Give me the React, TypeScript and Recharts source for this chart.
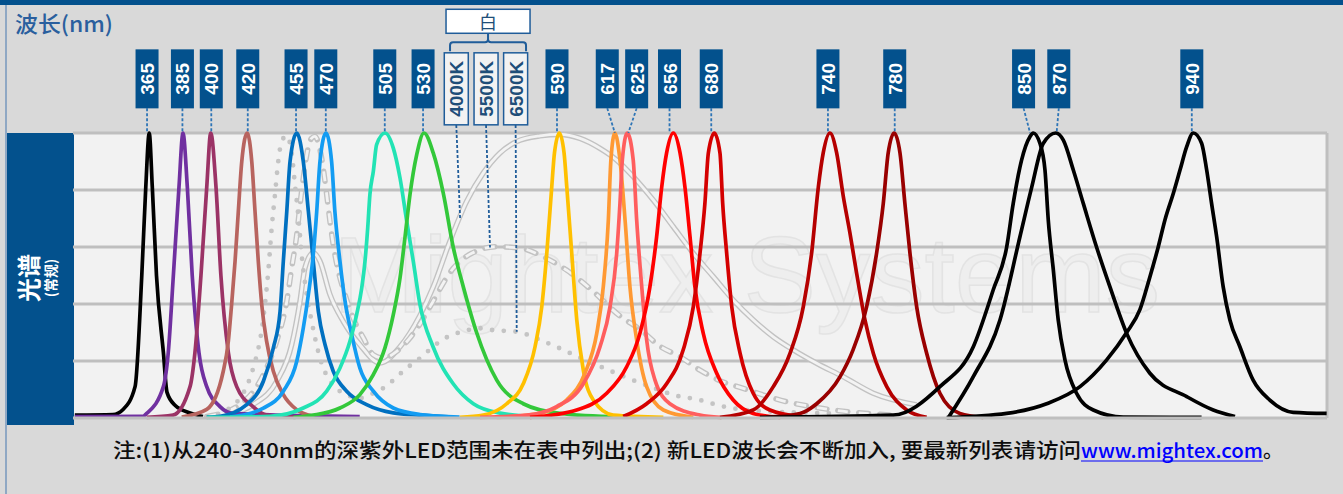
import { LineChart, Line, XAxis, YAxis, ReferenceLine, ReferenceDot } from 'recharts';

type Pt = [number, number];

// [wavelength nm, relative intensity]
const S365: Pt[] = [[324, 0.01], [345, 0.012], [350.6, 0.03], [357.2, 0.11], [360.9, 0.5], [363.1, 0.81], [365, 1], [366.7, 0.81], [369, 0.5], [372.8, 0.23], [374.8, 0.09], [379.2, 0.045], [387.5, 0.018], [394.6, 0.005]];
const S385: Pt[] = [[324, 0.005], [361.6, 0.006], [363.6, 0.016], [372.8, 0.11], [375.5, 0.23], [378.3, 0.5], [381.4, 0.81], [383.6, 1], [386, 0.81], [388.7, 0.5], [392.4, 0.23], [396.7, 0.11], [404, 0.04], [411.2, 0.016], [481, 0.005]];
const S400: Pt[] = [[363.6, 0.002], [378.1, 0.01], [387.5, 0.11], [390.2, 0.23], [393.5, 0.5], [396.7, 0.81], [398.9, 1], [401.8, 0.81], [404.5, 0.5], [408.6, 0.23], [413.2, 0.11], [422.2, 0.04], [429.7, 0.01], [445, 0.003]];
const S420: Pt[] = [[382.9, 0.003], [396.7, 0.03], [405.8, 0.164], [408.6, 0.269], [410.4, 0.398], [412.3, 0.55], [414.1, 0.725], [416, 0.9], [419, 1], [421.5, 0.9], [423.3, 0.725], [425.1, 0.55], [427, 0.398], [429.7, 0.269], [433.4, 0.164], [438.9, 0.082], [446.3, 0.029], [455.4, 0.006]];
const S455: Pt[] = [[396.7, 0.003], [404, 0.006], [418.7, 0.047], [427.9, 0.129], [433.4, 0.246], [437.1, 0.374], [438.9, 0.55], [440.8, 0.725], [442.6, 0.9], [446.3, 1], [449.9, 0.9], [452.7, 0.725], [455.4, 0.55], [458.2, 0.374], [461.9, 0.257], [466.4, 0.164], [473.8, 0.094], [484.8, 0.047], [499.5, 0.018], [514.2, 0.01], [530, 0.004]];
const S470: Pt[] = [[409.5, 0.003], [427.9, 0.035], [438.9, 0.094], [446.3, 0.199], [449.9, 0.316], [452.7, 0.433], [455.4, 0.573], [457.3, 0.725], [459.1, 0.9], [462.4, 1], [465.5, 0.9], [467.3, 0.725], [470.1, 0.55], [472.9, 0.41], [476.6, 0.292], [481.1, 0.175], [488.5, 0.094], [499.5, 0.035], [514.2, 0.012], [536, 0.003]];
const S505: Pt[] = [[396.7, 0.002], [431.5, 0.006], [449.9, 0.035], [462.8, 0.094], [470.1, 0.175], [475.6, 0.269], [479.3, 0.363], [482.1, 0.456], [483.9, 0.55], [485.4, 0.667], [486.6, 0.784], [488.5, 0.866], [490.3, 0.959], [494.9, 1], [499.5, 0.947], [503.2, 0.842], [506.9, 0.69], [510.5, 0.55], [514.2, 0.398], [521.4, 0.25], [532.5, 0.12], [543.6, 0.05], [558.3, 0.017], [580.3, 0.003]];
const S530: Pt[] = [[444.4, 0.002], [455.4, 0.01], [470.1, 0.035], [481.1, 0.082], [488.5, 0.152], [494.9, 0.246], [499.5, 0.363], [503.2, 0.491], [505.9, 0.632], [508.7, 0.784], [512.4, 0.924], [516.4, 1], [521.5, 0.93], [527, 0.79], [532.5, 0.6], [538.1, 0.46], [545.4, 0.3], [556.5, 0.133], [571.1, 0.05], [591.3, 0.016], [624.4, 0.003]];
const S590: Pt[] = [[536.2, 0.002], [549.1, 0.01], [562, 0.05], [571.1, 0.12], [577.6, 0.25], [581.3, 0.39], [584.1, 0.58], [586.8, 0.81], [588.3, 0.93], [591, 1], [593.6, 0.93], [595.1, 0.81], [597.8, 0.58], [600.6, 0.344], [604.2, 0.168], [609.7, 0.063], [620.7, 0.01], [648.3, 0.002]];
const S617: Pt[] = [[556.5, 0.002], [580.3, 0.016], [595, 0.063], [605.1, 0.157], [611.6, 0.297], [615.2, 0.46], [618, 0.695], [619.4, 0.905], [621.6, 1], [624.4, 0.905], [627.2, 0.695], [629.9, 0.46], [633.6, 0.274], [639.1, 0.11], [648.3, 0.028], [664.8, 0.002]];
const S625: Pt[] = [[547.3, 0.002], [573, 0.01], [589.5, 0.04], [604.2, 0.12], [613.4, 0.25], [618.9, 0.39], [622.6, 0.578], [624.4, 0.753], [625.7, 0.905], [628.4, 1], [631.7, 0.905], [633.6, 0.695], [636.4, 0.46], [639.1, 0.274], [643.7, 0.133], [651.9, 0.05], [668.5, 0.01], [679.5, 0.002]];
const S656: Pt[] = [[574.8, 0.002], [600.5, 0.028], [617.1, 0.087], [628.1, 0.18], [635.4, 0.297], [640.9, 0.46], [644.6, 0.636], [647.4, 0.81], [650.1, 0.93], [653.8, 1], [657.5, 0.93], [660.2, 0.81], [663, 0.636], [665.7, 0.46], [670.3, 0.297], [677.7, 0.157], [686.8, 0.063], [697.8, 0.016], [712.6, 0.002]];
const S680: Pt[] = [[626.2, 0.005], [639.1, 0.05], [650.1, 0.12], [659.3, 0.24], [664.8, 0.39], [668.5, 0.578], [671.2, 0.753], [673.1, 0.93], [676.4, 1], [679.5, 0.93], [681, 0.753], [683.2, 0.578], [686, 0.39], [690.6, 0.227], [697.8, 0.087], [707, 0.028], [723.6, 0.005]];
const S740: Pt[] = [[679.5, 0.002], [697.8, 0.028], [708.9, 0.11], [718.1, 0.227], [725.4, 0.39], [730, 0.578], [733.7, 0.81], [736.4, 0.93], [740.1, 1], [743.8, 0.93], [747.4, 0.78], [751.1, 0.65], [754.8, 0.508], [759.4, 0.344], [764, 0.227], [771.4, 0.11], [782.4, 0.028], [793.4, 0.002]];
const S780: Pt[] = [[705, 0.003], [723.6, 0.016], [732.8, 0.05], [745.7, 0.145], [752.9, 0.24], [760.3, 0.39], [765.8, 0.578], [769.5, 0.753], [772.2, 0.93], [775.5, 1], [778.7, 0.93], [781.4, 0.753], [784.2, 0.578], [787.9, 0.39], [793.4, 0.227], [800.7, 0.087], [811.7, 0.016], [824.6, 0.002]];
const S850: Pt[] = [[701.5, 0.002], [775, 0.01], [800.7, 0.11], [819.1, 0.25], [830.1, 0.45], [837.5, 0.6], [841.1, 0.753], [845.7, 0.905], [850.3, 0.987], [852.1, 1], [855.8, 0.964], [858.6, 0.87], [860.4, 0.695], [863.2, 0.519], [865.9, 0.344], [869.6, 0.204], [876, 0.087], [885.2, 0.028], [901.7, 0.003], [944.9, 0.002]];
const S870: Pt[] = [[805.3, 0.001], [819.1, 0.145], [833.8, 0.344], [844.8, 0.636], [851.3, 0.81], [857.7, 0.964], [864.6, 1], [868.7, 0.975], [874.2, 0.87], [879.7, 0.753], [887, 0.6], [894.4, 0.46], [903.6, 0.297], [916.4, 0.157], [936.7, 0.075], [951.3, 0.028], [963.3, 0.005]];
const S940: Pt[] = [[804.4, 0.001], [837.5, 0.016], [859.5, 0.05], [877.9, 0.11], [892.6, 0.204], [903.6, 0.3], [910.9, 0.38], [916.4, 0.495], [921, 0.6], [924.7, 0.695], [929.3, 0.788], [933, 0.87], [936.7, 0.952], [940.3, 1], [944.9, 0.964], [947.7, 0.87], [950.4, 0.753], [953.2, 0.636], [956.8, 0.46], [960.5, 0.344], [966, 0.25], [973.3, 0.133], [982.5, 0.063], [995.4, 0.02], [1013.8, 0.016]];

// white LEDs
const W4000: Pt[] = [[409.5, 0.012], [422.3, 0.047], [435.2, 0.128], [443.5, 0.257], [448.1, 0.41], [450.8, 0.526], [455.4, 0.58], [459.1, 0.55], [464.6, 0.433], [471.9, 0.339], [481.1, 0.257], [492.2, 0.193], [503.2, 0.25], [514.2, 0.36], [521.5, 0.46], [530.7, 0.62], [539.9, 0.76], [549.1, 0.86], [558.3, 0.93], [567.5, 0.97], [580.3, 0.99], [591.3, 0.995], [602.4, 0.981], [613.4, 0.946], [622.6, 0.905], [631.7, 0.847], [642.7, 0.765], [653.8, 0.671], [664.8, 0.578], [675.8, 0.496], [686.8, 0.414], [697.9, 0.344], [708.9, 0.285], [719.9, 0.239], [732.8, 0.192], [747.4, 0.145], [764, 0.087], [787.9, 0.046]];
const W5500: Pt[] = [[396.7, 0.005], [415, 0.047], [427.9, 0.152], [435.2, 0.269], [440.8, 0.41], [443.5, 0.526], [446.3, 0.643], [448.1, 0.748], [449.9, 0.842], [451.8, 0.924], [454.5, 0.982], [456.3, 0.988], [460, 0.912], [462.8, 0.784], [464.6, 0.69], [466.4, 0.608], [469.2, 0.515], [472.9, 0.433], [477.4, 0.351], [483, 0.281], [488.5, 0.222], [494, 0.21], [501.4, 0.234], [508.7, 0.281], [514.2, 0.33], [519.7, 0.39], [532.5, 0.525], [542.7, 0.578], [556.5, 0.601], [570.2, 0.595], [582.1, 0.566], [595, 0.519], [608.8, 0.449], [624.4, 0.358], [635.4, 0.311], [646.4, 0.252], [657.5, 0.215], [668.5, 0.168], [679.5, 0.131], [692.3, 0.104], [705.2, 0.077], [716.2, 0.057], [730, 0.04], [741.9, 0.028], [774.8, 0.01]];
const W6500: Pt[] = [[396.7, 0.005], [409.5, 0.035], [422.3, 0.175], [427.9, 0.351], [430.6, 0.515], [432.5, 0.667], [434.3, 0.784], [436.1, 0.9], [438, 0.971], [440.7, 0.99], [443.5, 0.93], [445.3, 0.819], [447.1, 0.713], [449, 0.573], [451.8, 0.433], [454.5, 0.339], [459.1, 0.21], [464.6, 0.129], [473.8, 0.082], [481.1, 0.07], [486.6, 0.082], [494, 0.105], [506.9, 0.175], [514.2, 0.21], [521.4, 0.25], [528, 0.28], [534.4, 0.297], [540.8, 0.309], [547.3, 0.315], [553.7, 0.309], [560.1, 0.306], [567.5, 0.303], [580.3, 0.274], [593.2, 0.239], [605.1, 0.203], [617.1, 0.171], [629, 0.139], [641, 0.11], [653.8, 0.081], [668.5, 0.063], [680.4, 0.042], [694.2, 0.028], [741.8, 0.016]];

// wavelength tags above the plot
const TAG_TEXT = ['365', '385', '400', '420', '455', '470', '505', '530', '590', '617', '625', '656', '680', '740', '780', '850', '870', '940'];
const TAG_X = [363.8, 383.3, 399.2, 419.3, 445.9, 462.3, 494.8, 515.9, 589.7, 617.4, 633.6, 651.7, 674.7, 739, 775.8, 846.8, 866.2, 939.5];
const TAG_PEAK_X = [363.8, 383.3, 399.2, 419.3, 445.9, 462.3, 494.8, 515.9, 589.7, 621.6, 629, 651.7, 674.7, 739, 775.8, 850.4, 865, 939.5];
const WHITE_TEXT = ['4000K', '5500K', '6500K'];
const WHITE_X = [534.2, 550.6, 566.9];
const WHITE_FOOT_X = [536.3, 552.8, 567.5];
const WHITE_FOOT_Y = [0.702, 0.598, 0.303];

const X_TICKS = [397, 497, 596, 696, 795, 894, 994];
const GRID_Y = [0.2, 0.4, 0.6, 0.8, 1];

const LED_SERIES = [
  { name: '365', data: S365, color: '#000000' },
  { name: '385', data: S385, color: '#7030a0' },
  { name: '400', data: S400, color: '#9b3366' },
  { name: '420', data: S420, color: '#b8645f' },
  { name: '455', data: S455, color: '#0070c0' },
  { name: '470', data: S470, color: '#139cf2' },
  { name: '505', data: S505, color: '#22e3b4' },
  { name: '530', data: S530, color: '#33c83a' },
  { name: '590', data: S590, color: '#ffc000' },
  { name: '617', data: S617, color: '#ff9933' },
  { name: '625', data: S625, color: '#ff5e5e' },
  { name: '656', data: S656, color: '#ff0000' },
  { name: '680', data: S680, color: '#d40000' },
  { name: '740', data: S740, color: '#b50000' },
  { name: '780', data: S780, color: '#990000' },
  { name: '850', data: S850, color: '#000000' },
  { name: '870', data: S870, color: '#000000' },
  { name: '940', data: S940, color: '#000000' },
];

const pts = (a: Pt[]) => a.map(([x, y]) => ({ x, y }));

const BLUE = '#03518d';
const TAG_Y = 1.19;
const TAG_BOTTOM = 1.087;
const WHITE_Y = 1.155;
const WHITE_BOTTOM = 1.028;
const WHITE_HEAD_Y = 1.392;
const CJK = '"Noto Sans CJK SC", "Noto Sans", sans-serif';
const LAT = '"Liberation Sans", Arial, sans-serif';

const NmTag = ({ cx, cy, text }: any) => (
  <g>
    <rect x={cx - 11.5} y={cy - 29.5} width={23} height={59} fill={BLUE} />
    <text
      transform={`translate(${cx + 0.5},${cy}) rotate(-90)`}
      textAnchor="middle"
      dominantBaseline="central"
      fill="#fff"
      fontFamily={LAT}
      fontWeight="bold"
      fontSize={19}
    >
      {text}
    </text>
  </g>
);

const WhiteTag = ({ cx, cy, text }: any) => (
  <g>
    <rect x={cx - 12} y={cy - 36} width={24} height={72} fill="#f2f2f2" stroke="#1f5c99" strokeWidth={1.5} />
    <text
      transform={`translate(${cx + 0.5},${cy}) rotate(-90)`}
      textAnchor="middle"
      dominantBaseline="central"
      fill="#1f4e79"
      fontFamily={LAT}
      fontWeight="bold"
      fontSize={19}
    >
      {text}
    </text>
  </g>
);

const WhiteHead = ({ cx, cy }: any) => (
  <g>
    <rect x={cx - 42} y={cy - 12} width={84} height={24} fill="#fff" stroke="#1f5c99" strokeWidth={1.5} />
    <text x={cx} y={cy} textAnchor="middle" dominantBaseline="central" fill="#1f4e79" fontFamily={CJK} fontSize={18}>
      白
    </text>
    <path
      d={`M ${cx - 38} ${cy + 30} V ${cy + 24} Q ${cx - 38} ${cy + 21} ${cx - 35} ${cy + 21} H ${cx - 3} Q ${cx} ${cy + 21} ${cx} ${cy + 18} V ${cy + 12} M ${cx} ${cy + 18} Q ${cx} ${cy + 21} ${cx + 3} ${cy + 21} H ${cx + 35} Q ${cx + 38} ${cy + 21} ${cx + 38} ${cy + 24} V ${cy + 30}`}
      fill="none"
      stroke="#1f5c99"
      strokeWidth={2}
    />
  </g>
);

export default function App() {
  return (
    <div style={{ position: 'absolute', left: 0, top: 0, width: 1343, height: 494, background: '#d9d9d9', overflow: 'hidden' }}>
      <div style={{ position: 'absolute', left: 0, top: 0, width: 1343, height: 5, background: BLUE }} />
      <div style={{ position: 'absolute', left: 5, top: 5, width: 1.5, height: 489, background: '#8fa8c4' }} />
      <div style={{ position: 'absolute', left: 73, top: 133, width: 1254, height: 285, background: '#f2f2f2' }} />
      <svg width={1343} height={494} style={{ position: 'absolute', left: 0, top: 0 }}>
        <rect x={7} y={133} width={67} height={292} fill={BLUE} />
        <text transform="translate(27,278) rotate(-90)" textAnchor="middle" dominantBaseline="central" fill="#fff" fontFamily={CJK} fontWeight="bold" fontSize={24}>
          光谱
        </text>
        <text transform="translate(50,278) rotate(-90)" textAnchor="middle" dominantBaseline="central" fill="#fff" fontFamily={CJK} fontWeight="bold" fontSize={14}>
          (常规)
        </text>
        <text x={333} y={312} textLength={827} lengthAdjust="spacingAndGlyphs" fill="#eeeeee" stroke="#e3e3e3" strokeWidth={1.5} fontFamily={LAT} fontSize={108}>
          Mightex Systems
        </text>
      </svg>
      <div style={{ position: 'absolute', left: 0, top: 0 }}>
        <LineChart width={1343} height={494} margin={{ top: 133, right: 16, bottom: 68, left: 73 }}>
          <XAxis
            dataKey="x"
            type="number"
            domain={[323, 1014]}
            allowDataOverflow
            ticks={X_TICKS}
            tick={false}
            tickSize={6}
            tickLine={{ stroke: '#bfbfbf', strokeWidth: 2 }}
            axisLine={{ stroke: '#bfbfbf', strokeWidth: 3 }}
            height={8}
          />
          <YAxis type="number" domain={[0, 1]} hide />
          {GRID_Y.map((g) => (
            <ReferenceLine key={'g' + g} y={g} stroke="#bfbfbf" strokeWidth={3} />
          ))}
          <ReferenceLine x={1014} stroke="#bfbfbf" strokeWidth={3} />

          {/* white LEDs: hollow solid, hollow dashed, dotted */}
          <Line data={pts(W4000)} dataKey="y" type="monotone" stroke="#c2c2c2" strokeWidth={5.5} dot={false} activeDot={false} isAnimationActive={false} />
          <Line data={pts(W4000)} dataKey="y" type="monotone" stroke="#f3f3f3" strokeWidth={2.8} dot={false} activeDot={false} isAnimationActive={false} />
          <Line data={pts(W5500)} dataKey="y" type="monotone" stroke="#c2c2c2" strokeWidth={5.5} strokeDasharray="10 11" strokeLinecap="round" dot={false} activeDot={false} isAnimationActive={false} />
          <Line data={pts(W5500)} dataKey="y" type="monotone" stroke="#f3f3f3" strokeWidth={2.8} strokeDasharray="10 11" dot={false} activeDot={false} isAnimationActive={false} />
          <Line data={pts(W6500)} dataKey="y" type="monotone" stroke="#c4c4c4" strokeWidth={4.8} strokeDasharray="0 11.7" strokeLinecap="round" dot={false} activeDot={false} isAnimationActive={false} />

          {LED_SERIES.map((s) => (
            <Line
              key={s.name}
              name={s.name}
              data={pts(s.data)}
              dataKey="y"
              type="monotone"
              stroke={s.color}
              strokeWidth={3.7}
              dot={false}
              activeDot={false}
              isAnimationActive={false}
            />
          ))}

          {TAG_TEXT.map((t, i) => (
            <ReferenceLine
              key={'l' + t}
              segment={[{ x: TAG_X[i], y: TAG_BOTTOM }, { x: TAG_PEAK_X[i], y: 1 }]}
              stroke="#2e75b6"
              strokeWidth={1.8}
              strokeDasharray="3 2"
              ifOverflow="visible"
            />
          ))}
          {WHITE_TEXT.map((t, i) => (
            <ReferenceLine
              key={'wl' + t}
              segment={[{ x: WHITE_X[i], y: WHITE_BOTTOM }, { x: WHITE_FOOT_X[i], y: WHITE_FOOT_Y[i] }]}
              stroke="#1f5c99"
              strokeWidth={1.8}
              strokeDasharray="3 2"
              ifOverflow="visible"
            />
          ))}
          {TAG_TEXT.map((t, i) => (
            <ReferenceDot key={'t' + t} x={TAG_X[i]} y={TAG_Y} ifOverflow="visible" shape={(p: any) => <NmTag {...p} text={t} />} />
          ))}
          {WHITE_TEXT.map((t, i) => (
            <ReferenceDot key={'w' + t} x={WHITE_X[i]} y={WHITE_Y} ifOverflow="visible" shape={(p: any) => <WhiteTag {...p} text={t} />} />
          ))}
          <ReferenceDot x={551.7} y={WHITE_HEAD_Y} ifOverflow="visible" shape={(p: any) => <WhiteHead {...p} />} />
        </LineChart>
      </div>
      <svg width={1343} height={494} style={{ position: 'absolute', left: 0, top: 0, pointerEvents: 'none' }}>
        <text x={15} y={32} textLength={98} lengthAdjust="spacingAndGlyphs" fill="#2a5f9e" fontFamily={CJK} fontWeight={500} fontSize={22}>
          波长(nm)
        </text>
        <text x={113} y={458} textLength={968} lengthAdjust="spacingAndGlyphs" fill="#0d0d0d" fontFamily={CJK} fontWeight={500} fontSize={20}>
          注:(1)从240-340nm的深紫外LED范围未在表中列出;(2) 新LED波长会不断加入, 要最新列表请访问
        </text>
        <text x={1081} y={458} textLength={182} lengthAdjust="spacingAndGlyphs" fill="#0000ff" fontFamily={CJK} fontWeight={500} fontSize={20}>
          www.mightex.com
        </text>
        <line x1={1081} y1={461} x2={1263} y2={461} stroke="#0000ff" strokeWidth={1.2} />
        <text x={1263} y={458} fill="#0d0d0d" fontFamily={CJK} fontWeight={500} fontSize={20}>
          。
        </text>
      </svg>
    </div>
  );
}
